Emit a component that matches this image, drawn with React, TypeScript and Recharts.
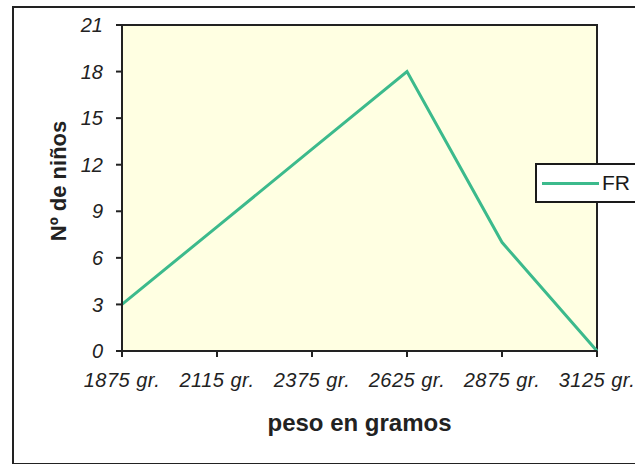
import React from 'react';
import { LineChart, Line, XAxis, YAxis, ReferenceArea } from 'recharts';

const pesos = ['1875 gr.', '2115 gr.', '2375 gr.', '2625 gr.', '2875 gr.', '3125 gr.'];
const frecuencia = [3, 8, 13, 18, 7, 0];
const yTicks = [0, 3, 6, 9, 12, 15, 18, 21];

const data = pesos.map((peso, i) => ({ peso, FR: frecuencia[i] }));

const FONT = 'Arial, "Liberation Sans", sans-serif';
const GREEN = '#3cba8c';

// legend box sits over the right edge of the plot, cut off like in the scan
const LegendBox = () => (
  <div
    style={{
      position: 'absolute',
      left: 535,
      top: 163,
      width: 120,
      height: 36,
      border: '2px solid #1a1a1a',
      background: '#fff',
      display: 'flex',
      alignItems: 'center',
      fontFamily: FONT,
      fontSize: 21,
      color: '#1a1a1a',
    }}
  >
    <div style={{ width: 57, height: 3, background: GREEN, marginLeft: 5 }} />
    <span style={{ marginLeft: 3 }}>FR</span>
  </div>
);

const App = () => {
  return (
    <div style={{ position: 'absolute', left: 0, top: 0, width: 635, height: 464, overflow: 'hidden', background: '#fff' }}>
      <div
        style={{
          position: 'absolute',
          left: 12,
          top: 6,
          width: 660,
          height: 455,
          border: '2px solid #222',
        }}
      />
      <div style={{ position: 'absolute', left: 0, top: 0 }}>
        <LineChart width={635} height={464} data={data} margin={{ top: 25, right: 38, bottom: 0, left: 0 }}>
          <ReferenceArea
            x1={pesos[0]}
            x2={pesos[pesos.length - 1]}
            y1={0}
            y2={21}
            fill="#ffffe2"
            fillOpacity={1}
            stroke="#222"
            strokeWidth={2}
          />
          <XAxis
            dataKey="peso"
            height={113}
            tickLine={{ stroke: '#222', strokeWidth: 2 }}
            axisLine={{ stroke: '#222', strokeWidth: 2 }}
            tickSize={6}
            tick={{ fill: '#222', fontSize: 20, fontStyle: 'italic', fontFamily: FONT, dy: 14, letterSpacing: 0.5 }}
            interval={0}
            label={{ value: 'peso en gramos', position: 'insideTop', offset: 63, fill: '#222', fontSize: 24, fontWeight: 'bold', fontFamily: FONT }}
          />
          <YAxis
            domain={[0, 21]}
            ticks={yTicks}
            width={122}
            tickLine={{ stroke: '#222', strokeWidth: 2 }}
            axisLine={{ stroke: '#222', strokeWidth: 2 }}
            tickSize={6}
            tick={{ fill: '#222', fontSize: 20, fontStyle: 'italic', fontFamily: FONT, dx: -11 }}
            label={{ value: 'Nº de niños', angle: -90, position: 'center', dx: -3, dy: -7, fill: '#222', fontSize: 22, fontWeight: 'bold', fontFamily: FONT }}
          />
          <Line
            type="linear"
            dataKey="FR"
            stroke={GREEN}
            strokeWidth={3}
            dot={false}
            isAnimationActive={false}
          />
        </LineChart>
      </div>
      <LegendBox />
    </div>
  );
};

export default App;
